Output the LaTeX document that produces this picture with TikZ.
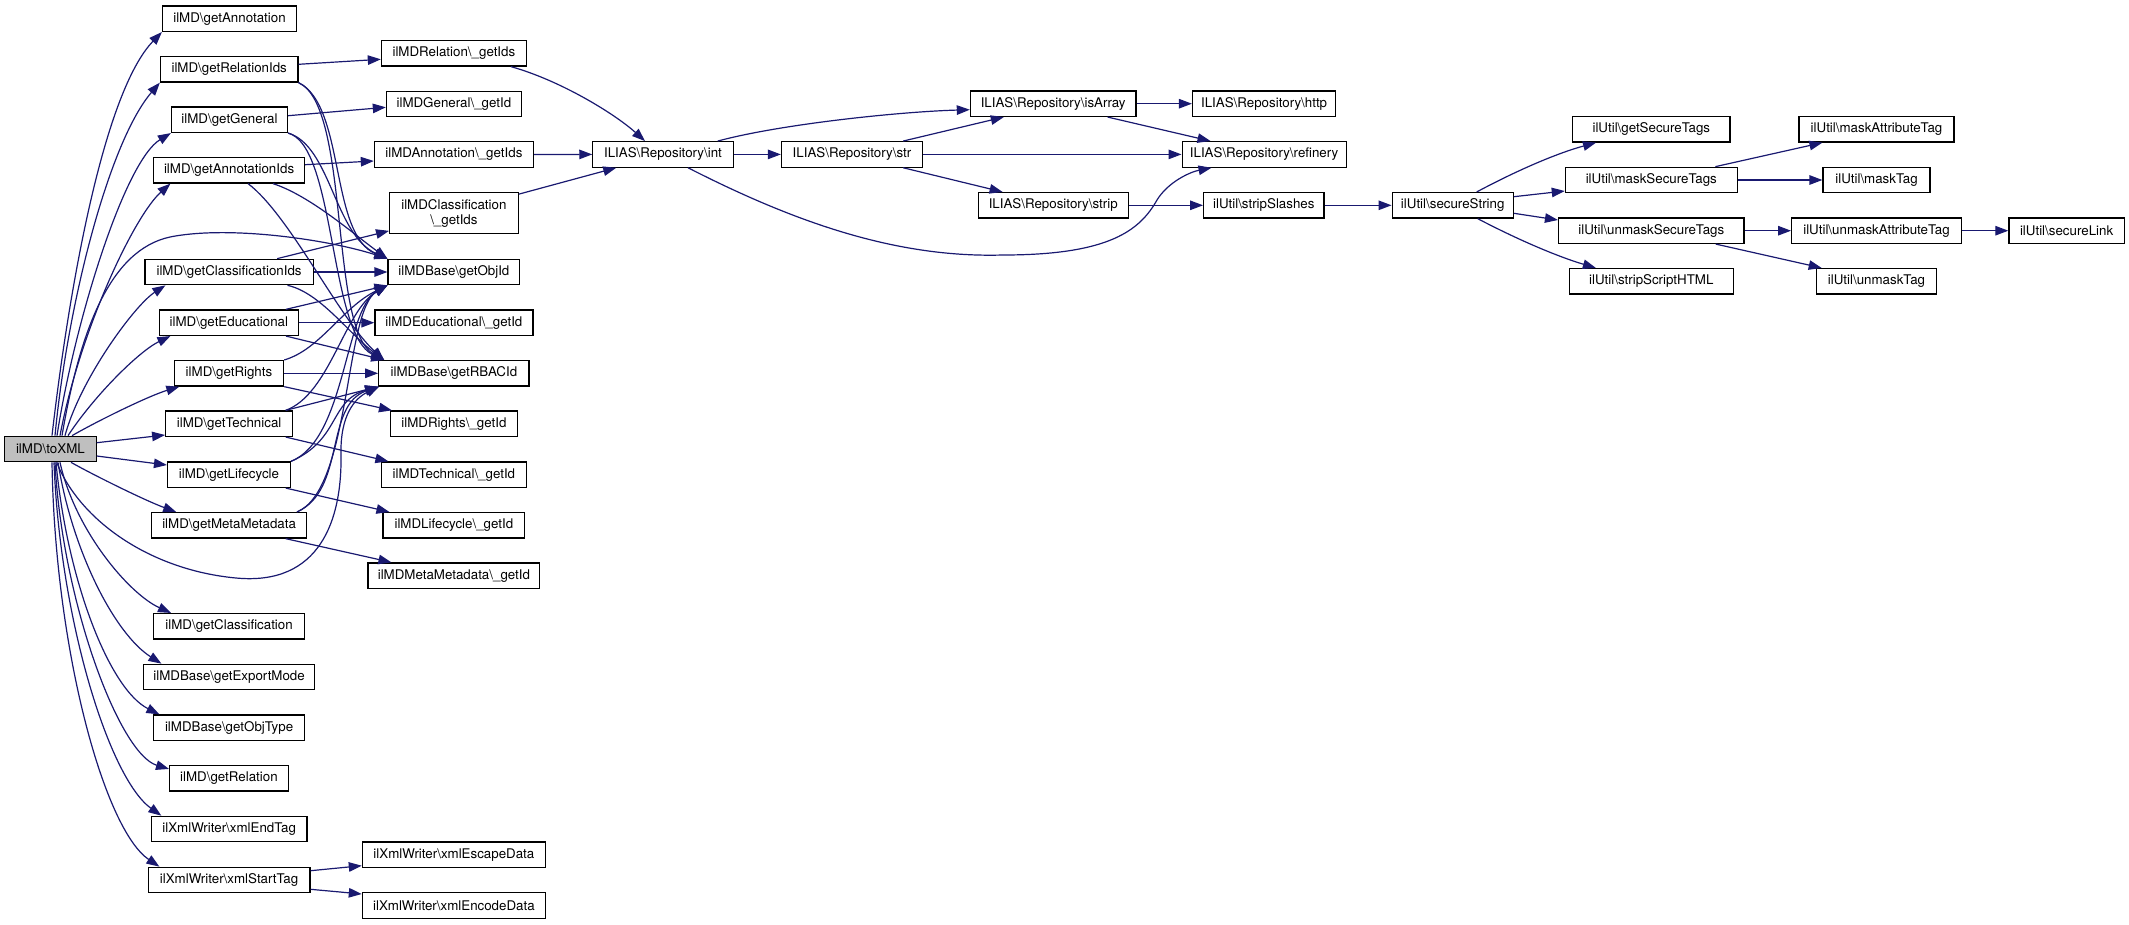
\documentclass[tikz,border=0pt]{standalone}
\usepackage{fontspec}
\setmainfont{TeX Gyre Heros}
\usetikzlibrary{arrows.meta}
\definecolor{edgec}{HTML}{191970}
\definecolor{rootfill}{HTML}{BFBFBF}
\newcommand\mybs{\textbackslash}
\tikzset{
  box/.style={draw=black, line width=1.2pt, fill=white, inner sep=0pt,
    minimum height=25.5pt, font=\fontsize{13.33}{15}\selectfont, text=black},
  e/.style={draw=edgec, line width=1.2pt, -{Triangle[length=13pt,width=9.5pt]}},
}
\begin{document}
\begin{tikzpicture}[x=1pt,y=-1pt]
\useasboundingbox (0,0) rectangle (2129,924);
% column 1
\node[box, fill=rootfill, minimum width=91.5pt] (root) at (50.4,449) {ilMD\mybs toXML};
% column 2
\node[box, minimum width=134pt] (annot) at (229.5,18.7) {ilMD\mybs getAnnotation};
\node[box, minimum width=137.5pt] (rids) at (229.2,69.3) {ilMD\mybs getRelationIds};
\node[box, minimum width=116pt] (gen) at (229.5,119.7) {ilMD\mybs getGeneral};
\node[box, minimum width=151pt] (aids) at (229.1,170.3) {ilMD\mybs getAnnotationIds};
\node[box, minimum width=168.2pt] (cids) at (229.1,272) {ilMD\mybs getClassificationIds};
\node[box, minimum width=138.6pt] (edu) at (228.9,322.7) {ilMD\mybs getEducational};
\node[box, minimum width=109.3pt] (rights) at (229,373.3) {ilMD\mybs getRights};
\node[box, minimum width=126.8pt] (tech) at (229.1,423.7) {ilMD\mybs getTechnical};
\node[box, minimum width=122.9pt] (life) at (229,474.7) {ilMD\mybs getLifecycle};
\node[box, minimum width=154.6pt] (meta) at (229.1,525.3) {ilMD\mybs getMetaMetadata};
\node[box, minimum width=151pt] (cls) at (229.1,626.3) {ilMD\mybs getClassification};
\node[box, minimum width=171pt] (expm) at (229.1,677) {ilMDBase\mybs getExportMode};
\node[box, minimum width=151pt] (otype) at (229.1,727.7) {ilMDBase\mybs getObjType};
\node[box, minimum width=118.6pt] (rel) at (228.9,778.3) {ilMD\mybs getRelation};
\node[box, minimum width=155.7pt] (endtag) at (229.2,829) {ilXmlWriter\mybs xmlEndTag};
\node[box, minimum width=161.8pt] (starttag) at (229.1,880) {ilXmlWriter\mybs xmlStartTag};
% column 3
\node[box, minimum width=145pt] (relget) at (453.9,53.3) {ilMDRelation\mybs\_getIds};
\node[box, minimum width=135pt] (genget) at (453.9,104) {ilMDGeneral\mybs\_getId};
\node[box, minimum width=159pt] (annget) at (453.9,154.5) {ilMDAnnotation\mybs\_getIds};
\node[box, minimum width=128.6pt, minimum height=40.5pt, align=center] (clsget) at (453.9,213) {ilMDClassification\\\mybs\_getIds};
\node[box, minimum width=131.8pt] (objid) at (453.9,272) {ilMDBase\mybs getObjId};
\node[box, minimum width=158pt] (eduget) at (453.9,322.7) {ilMDEducational\mybs\_getId};
\node[box, minimum width=150.3pt] (rbac) at (453.9,373.3) {ilMDBase\mybs getRBACId};
\node[box, minimum width=126.7pt] (rightsget) at (453.9,423.7) {ilMDRights\mybs\_getId};
\node[box, minimum width=145pt] (techget) at (453.9,474.7) {ilMDTechnical\mybs\_getId};
\node[box, minimum width=141.7pt] (lifeget) at (453.9,525.3) {ilMDLifecycle\mybs\_getId};
\node[box, minimum width=171.7pt] (metaget) at (453.9,575.7) {ilMDMetaMetadata\mybs\_getId};
\node[box, minimum width=183pt] (escape) at (453.9,854.7) {ilXmlWriter\mybs xmlEscapeData};
\node[box, minimum width=183pt] (encode) at (453.9,905.5) {ilXmlWriter\mybs xmlEncodeData};
% right part
\node[box, minimum width=140.3pt] (int) at (663,154.4) {ILIAS\mybs Repository\mybs int};
\node[box, minimum width=141.1pt] (str) at (852,154.4) {ILIAS\mybs Repository\mybs str};
\node[box, minimum width=165.6pt] (isarr) at (1053.2,103.7) {ILIAS\mybs Repository\mybs isArray};
\node[box, minimum width=150pt] (strip) at (1053.2,205.3) {ILIAS\mybs Repository\mybs strip};
\node[box, minimum width=143.2pt] (http) at (1264.1,103.7) {ILIAS\mybs Repository\mybs http};
\node[box, minimum width=164pt] (refinery) at (1264.1,154.4) {ILIAS\mybs Repository\mybs refinery};
\node[box, minimum width=120.3pt] (slashes) at (1263.8,205.3) {ilUtil\mybs stripSlashes};
\node[box, minimum width=121.1pt] (secure) at (1452.7,205.3) {ilUtil\mybs secureString};
\node[box, minimum width=157.4pt] (gettags) at (1651.3,129.3) {ilUtil\mybs getSecureTags};
\node[box, minimum width=171.9pt] (masktags) at (1651.3,180) {ilUtil\mybs maskSecureTags};
\node[box, minimum width=185.5pt] (unmasktags) at (1651.3,230.7) {ilUtil\mybs unmaskSecureTags};
\node[box, minimum width=163.7pt] (scripthtml) at (1651.3,281.3) {ilUtil\mybs stripScriptHTML};
\node[box, minimum width=155pt] (maskattr) at (1876.5,129.3) {ilUtil\mybs maskAttributeTag};
\node[box, minimum width=107pt] (masktag) at (1876.5,180) {ilUtil\mybs maskTag};
\node[box, minimum width=169.7pt] (unmaskattr) at (1876.5,230.7) {ilUtil\mybs unmaskAttributeTag};
\node[box, minimum width=120.4pt] (unmasktag) at (1876.5,281.3) {ilUtil\mybs unmaskTag};
\node[box, minimum width=115.4pt] (securelink) at (2066.6,230.7) {ilUtil\mybs secureLink};

% fan from toXML, upper
\draw[e] ([shift={(1.6,0)}]root.north) .. controls +(18,-156) and +(-57,59) .. (annot.south west);
\draw[e] ([shift={(4.6,0)}]root.north) .. controls +(13,-136) and +(-50,58) .. (rids.south west);
\draw[e] ([shift={(6.6,0)}]root.north) .. controls +(18,-116) and +(-46,28) .. (gen.south west);
\draw[e] ([shift={(9.6,0)}]root.north) .. controls +(20,-106) and +(-36,32) .. ([shift={(17.4,0)}]aids.south west);
\draw[e] ([shift={(11.6,0)}]root.north) .. controls (80,330) and (110,250) .. (170,237) .. controls (230,225) and (330,240) .. (objid.north west);
\draw[e] ([shift={(14.6,0)}]root.north) .. controls +(15,-56) and +(-31,20) .. ([shift={(21,0)}]cids.south west);
\draw[e] ([shift={(17.6,0)}]root.north) .. controls +(27,-41) and +(-31,15) .. ([shift={(11.4,0)}]edu.south west);
\draw[e] ([shift={(21.6,0)}]root.north) .. controls +(28,-16) and +(-30,9) .. ([shift={(5.6,0)}]rights.south west);
\draw[e] ([shift={(0,-6.3)}]root.east) -- ([shift={(0,11.3)}]tech.west);
\draw[e] ([shift={(0,7)}]root.east) -- ([shift={(0,-9.7)}]life.west);
\draw[e] ([shift={(20.6,0)}]root.south) .. controls +(25,14) and +(-30,-11) .. ([shift={(25,0)}]meta.north west);
% fan from toXML, lower
\draw[e] ([shift={(6.3,0)}]root.south) .. controls +(23,58) and (150,570) .. (236,578) .. controls (320,586) and (342,520) .. (341,455) .. controls (340,415) and (355,398) .. ([shift={(1,0)}]rbac.south west);
\draw[e] ([shift={(9.6,0)}]root.south) .. controls +(15,68) and +(-42,-19) .. ([shift={(18,0)}]cls.north west);
\draw[e] ([shift={(7.6,0)}]root.south) .. controls +(14,88) and +(-47,-30) .. ([shift={(18.4,0)}]expm.north west);
\draw[e] ([shift={(5.6,0)}]root.south) .. controls +(11,118) and +(-50,-25) .. ([shift={(6.4,0)}]otype.north west);
\draw[e] ([shift={(4.6,0)}]root.south) .. controls +(7,138) and +(-50,-15) .. ([shift={(0,4)}]rel.north west);
\draw[e] ([shift={(3.6,0)}]root.south) .. controls +(6,158) and +(-52,-37) .. ([shift={(10.6,0)}]endtag.north west);
\draw[e] ([shift={(1.6,0)}]root.south) .. controls +(3,188) and +(-55,-37) .. ([shift={(11.8,0)}]starttag.north west);

% column 2 -> column 3
\draw[e] ([shift={(0,-5)}]rids.east) -- ([shift={(0,6)}]relget.west);
\draw[e] (rids.south east) .. controls +(47,23) and +(-58,-24) .. (objid.north west);
\draw[e] (rids.south east) .. controls +(52,23) and +(-55,-31) .. ([shift={(6,0)}]rbac.north west);
\draw[e] ([shift={(0,-4)}]gen.east) -- ([shift={(0,3.3)}]genget.west);
\draw[e] (gen.south east) .. controls +(42.5,12.5) and +(-53,-24) .. (objid.north west);
\draw[e] (gen.south east) .. controls +(47.5,12.5) and +(-55,-26) .. ([shift={(6,0)}]rbac.north west);
\draw[e] ([shift={(0,-5.6)}]aids.east) -- ([shift={(0,6.5)}]annget.west);
\draw[e] ([shift={(44,0)}]aids.south) .. controls +(37,12) and +(-33,-24) .. (objid.north west);
\draw[e] ([shift={(19,0)}]aids.south) .. controls +(42,32) and +(-45,-41) .. ([shift={(6,0)}]rbac.north west);
\draw[e] ([shift={(48,0)}]cids.north) -- ([shift={(0,-3)}]clsget.south west);
\draw[e] (cids.east) -- (objid.west);
\draw[e] ([shift={(58.4,0)}]cids.south) .. controls +(32.5,7) and +(-35,-26) .. ([shift={(6,0)}]rbac.north west);
\draw[e] (edu.east) -- (eduget.west);
\draw[e] ([shift={(57,0)}]edu.north) -- (objid.south west);
\draw[e] ([shift={(57,0)}]edu.south) -- ([shift={(6,0)}]rbac.north west);
\draw[e] (rights.east) -- (rbac.west);
\draw[e] (rights.north east) .. controls +(36,-10.5) and +(-45,22) .. (objid.south west);
\draw[e] (rights.south east) -- ([shift={(2,0)}]rightsget.north west);
\draw[e] ([shift={(56.6,0)}]tech.north) -- (rbac.south west);
\draw[e] ([shift={(56.6,0)}]tech.north) .. controls +(44,-16) and +(-43,25) .. (objid.south west);
\draw[e] ([shift={(56.6,0)}]tech.south) -- ([shift={(7.6,0)}]techget.north west);
\draw[e] (life.north east) .. controls +(54.5,-22) and +(-43,25) .. (objid.south west);
\draw[e] (life.north east) .. controls +(49.5,-22) and +(-49,14) .. (rbac.south west);
\draw[e] ([shift={(56.7,0)}]life.south) -- ([shift={(7,0)}]lifeget.north west);
\draw[e] ([shift={(-10,0)}]meta.north east) .. controls +(54,-22) and +(-43,25) .. (objid.south west);
\draw[e] ([shift={(-10,0)}]meta.north east) .. controls +(49,-22) and +(-54,19) .. (rbac.south west);
\draw[e] ([shift={(56.6,0)}]meta.south) -- ([shift={(24,0)}]metaget.north west);
\draw[e] ([shift={(0,-9.3)}]starttag.east) -- ([shift={(0,11)}]escape.west);
\draw[e] ([shift={(0,9.3)}]starttag.east) -- ([shift={(0,-11.5)}]encode.west);

% column 3 -> int
\draw[e] ([shift={(-16,0)}]relget.south east) .. controls +(50,14) and +(-30,-27) .. ([shift={(-18,0)}]int.north);
\draw[e] (annget.east) -- (int.west);
\draw[e] ([shift={(0,2)}]clsget.north east) -- ([shift={(24,0)}]int.south west);

% repository part
\draw[e] ([shift={(-16,0)}]int.north east) .. controls +(63,-17) and +(-70,2) .. ([shift={(0,6)}]isarr.west);
\draw[e] (int.east) -- (str.west);
\draw[e] ([shift={(25,0)}]int.south) .. controls (800,225) and (900,258) .. (1003,255) .. controls (1110,255) and (1140,230) .. (1157,200) .. controls (1168,182) and (1190,172) .. ([shift={(30,0)}]refinery.south west);
\draw[e] ([shift={(-20,0)}]str.north east) -- ([shift={(34,0)}]isarr.south west);
\draw[e] (str.east) -- (refinery.west);
\draw[e] ([shift={(-20,0)}]str.south east) -- ([shift={(25,0)}]strip.north west);
\draw[e] (isarr.east) -- (http.west);
\draw[e] ([shift={(-29,0)}]isarr.south east) -- ([shift={(29,0)}]refinery.north west);
\draw[e] (strip.east) -- (slashes.west);
\draw[e] (slashes.east) -- (secure.west);
\draw[e] ([shift={(24,0)}]secure.north) .. controls +(43,-23) and +(-37,10) .. ([shift={(24,0)}]gettags.south west);
\draw[e] ([shift={(0,-8.6)}]secure.east) -- ([shift={(0,11)}]masktags.west);
\draw[e] ([shift={(0,8)}]secure.east) -- ([shift={(0,-10.7)}]unmasktags.west);
\draw[e] ([shift={(25,0)}]secure.south) .. controls +(42,22) and +(-37,-11) .. ([shift={(27,0)}]scripthtml.north west);
\draw[e] ([shift={(-22.5,0)}]masktags.north east) -- ([shift={(24,0)}]maskattr.south west);
\draw[e] (masktags.east) -- (masktag.west);
\draw[e] (unmasktags.east) -- (unmaskattr.west);
\draw[e] ([shift={(-29,0)}]unmasktags.south east) -- ([shift={(6,0)}]unmasktag.north west);
\draw[e] (unmaskattr.east) -- (securelink.west);
\end{tikzpicture}
\end{document}
